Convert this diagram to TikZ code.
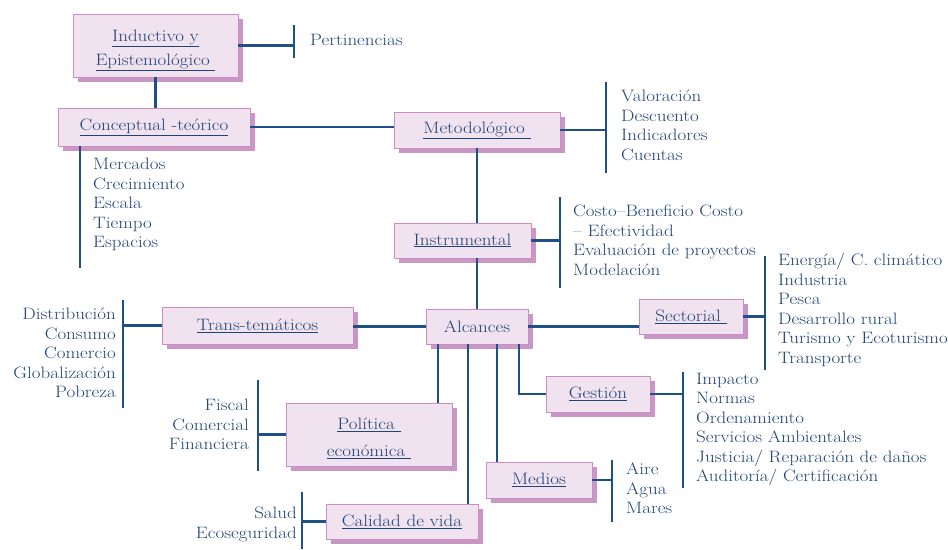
\documentclass[tikz,border=0pt]{standalone}
\usepackage{fontspec}
\setmainfont{Latin Modern Roman}[FakeStretch=1.15]
\usepackage{tikz}
\usetikzlibrary{shadows}
\definecolor{boxfill}{HTML}{F1E2EF}
\definecolor{boxedge}{HTML}{CC8CC4}
\definecolor{boxshade}{HTML}{C897C3}
\definecolor{wire}{HTML}{1F4F88}
\definecolor{ink}{HTML}{1E4478}
\newcommand\txtsz{\fontsize{16.5}{19.5}\selectfont}

\begin{document}
\begin{tikzpicture}[x=1pt,y=-1pt,
    box/.style={fill=boxfill,draw=boxedge,line width=0.9pt,inner sep=0pt,text=ink,font=\txtsz,align=center,
      drop shadow={shadow xshift=5pt,shadow yshift=-5pt,fill=boxshade,opacity=1}},
    items/.style={inner sep=0pt,text=ink,font=\txtsz},
    conn/.style={draw=wire,line width=2.2pt}]
  \useasboundingbox (0,0) rectangle (948,549);
  \draw
    (155.5,45.5) node[box,minimum width=165pt,minimum height=63pt] (ind){\rule{0pt}{21pt}\underline{Inductivo y}\\[4pt]\underline{Epistemológico\ }}
    (154,127) node[box,minimum width=192pt,minimum height=38pt] (con){\underline{Conceptual -teórico}}
    (477,130) node[box,minimum width=166pt,minimum height=36pt] (met){\underline{Metodológico\ }}
    (462.5,240.5) node[box,minimum width=137pt,minimum height=35pt] (ins){\underline{Instrumental}}
    (477,326.5) node[box,minimum width=102pt,minimum height=35pt] (alc){Alcances}
    (691,316.5) node[box,minimum width=104pt,minimum height=35pt] (sec){\underline{Sectorial\ }}
    (598,394) node[box,minimum width=104pt,minimum height=36pt] (ges){\underline{Gestión}}
    (539,480) node[box,minimum width=106pt,minimum height=36pt] (med){\underline{Medios}}
    (257.5,325.5) node[box,minimum width=191pt,minimum height=37pt] (tra){\underline{Trans-temáticos}}
    (369,434.5) node[box,minimum width=166pt,minimum height=63pt] (pol){\rule{0pt}{19pt}\underline{Política\ }\\[8pt]\underline{económica\ }}
    (402,521.5) node[box,minimum width=152pt,minimum height=35pt] (cal){\underline{Calidad de vida}};
  % item lists
  \draw
    (310,40) node[items,anchor=west] (per){Pertinencias}
    (93,158) node[items,anchor=north west,align=left] (lcon){Mercados\\Crecimiento\\Escala\\Tiempo\\Espacios}
    (621,90) node[items,anchor=north west,align=left] (lmet){Valoración\\Descuento\\Indicadores\\Cuentas}
    (573,205) node[items,anchor=north west,align=left] (lins){Costo--Beneficio Costo\\-- Efectividad\\Evaluación de proyectos\\Modelación}
    (778,253) node[items,anchor=north west,align=left] (lsec){Energía/ C. climático\\Industria\\Pesca\\Desarrollo rural\\Turismo y Ecoturismo\\Transporte}
    (696,373) node[items,anchor=north west,align=left] (lges){Impacto\\Normas\\Ordenamiento\\Servicios Ambientales\\Justicia/ Reparación de daños\\Auditoría/ Certificación}
    (626,463) node[items,anchor=north west,align=left] (lmed){Aire\\Agua\\Mares}
    (116,308) node[items,anchor=north east,align=right] (ltra){Distribución\\Consumo\\Comercio\\Globalización\\Pobreza}
    (249,399) node[items,anchor=north east,align=right] (lpol){Fiscal\\Comercial\\Financiera}
    (297,507) node[items,anchor=north east,align=right] (lcal){Salud\\Ecoseguridad};
  % bars
  \coordinate (p1) at (294,25);  \coordinate (p2) at (294,58);
  \coordinate (c1) at (80,146);  \coordinate (c2) at (80,268);
  \coordinate (m1) at (606,82);  \coordinate (m2) at (606,173);
  \coordinate (i1) at (560,197); \coordinate (i2) at (560,288);
  \coordinate (s1) at (765,256); \coordinate (s2) at (765,370);
  \coordinate (g1) at (683,372); \coordinate (g2) at (683,488);
  \coordinate (e1) at (612,460); \coordinate (e2) at (612,522);
  \coordinate (t1) at (123,300); \coordinate (t2) at (123,408);
  \coordinate (f1) at (258,380); \coordinate (f2) at (258,471);
  \coordinate (v1) at (302,492); \coordinate (v2) at (302,549);
  \coordinate (d1) at (438,0); \coordinate (d2) at (468,0);
  \coordinate (d3) at (497,0); \coordinate (d4) at (519,0);
  \begin{scope}[conn]
    \draw (p1) -- (p2);
    \draw (c1) -- (c2);
    \draw (m1) -- (m2);
    \draw (i1) -- (i2);
    \draw (s1) -- (s2);
    \draw (g1) -- (g2);
    \draw (e1) -- (e2);
    \draw (t1) -- (t2);
    \draw (f1) -- (f2);
    \draw (v1) -- (v2);
    \draw (ind.east) -- (ind.east -| p1);
    \draw (ind.south) -- (ind.south |- con.north);
    \draw (con.east) -- (met.west |- con.east);
    \draw (met.east) -- (met.east -| m1);
    \draw (met.south) -- (met.south |- ins.north);
    \draw (ins.east) -- (ins.east -| i1);
    \draw (ins.south -| met.south) -- (alc.north);
    \draw (alc.east) -- (alc.east -| sec.west);
    \draw (sec.east) -- (sec.east -| s1);
    \draw (alc.west) -- (alc.west -| tra.east);
    \draw (tra.west) -- (tra.west -| t1);
    \draw (d1 |- alc.south) -- (d1 |- pol.north);
    \draw (pol.west) -- (pol.west -| f1);
    \draw (d2 |- alc.south) -- (d2 |- cal.north);
    \draw (cal.west) -- (cal.west -| v1);
    \draw (d3 |- alc.south) -- (d3 |- med.north);
    \draw (med.east) -- (med.east -| e1);
    \draw (d4 |- alc.south) |- (ges.west);
    \draw (ges.east) -- (ges.east -| g1);
  \end{scope}
\end{tikzpicture}
\end{document}
